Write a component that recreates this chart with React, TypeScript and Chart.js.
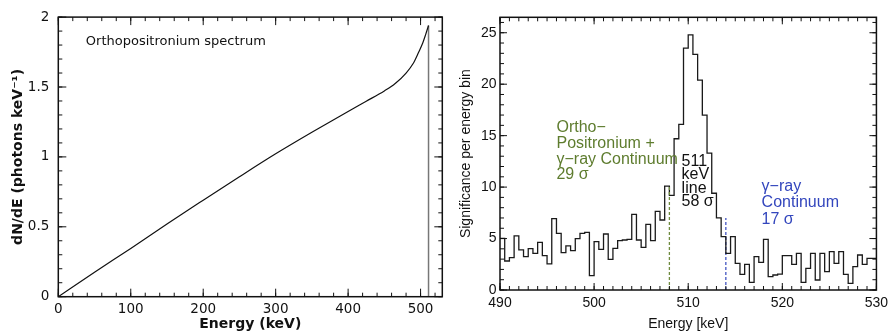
import React, { useEffect, useRef } from 'react';
import { Chart, registerables } from 'chart.js';

Chart.register(...registerables);

// ---------- Left panel: orthopositronium spectrum ----------
const opsEnergy = [0, 50, 100, 150, 200, 250, 300, 350, 400, 425, 450, 465, 480, 490, 497, 503, 507, 511];
const opsFlux = [0, 0.175, 0.345, 0.52, 0.69, 0.858, 1.022, 1.176, 1.325, 1.398, 1.472, 1.525, 1.6, 1.67, 1.745, 1.815, 1.875, 1.94];
const opsCutoffEnergy = 511;
const leftXTicks = [0, 100, 200, 300, 400, 500];
const leftXTickLabels = ['0', '100', '200', '300', '400', '500'];
const leftYTicks = [0, 0.5, 1, 1.5, 2];
const leftYTickLabels = ['0', '0.5', '1', '1.5', '2'];

// ---------- Right panel: significance histogram ----------
const BIN_START = 490;
const BIN_WIDTH = 0.5;
const significance = [
  5.02, 5.02, 2.82, 3.14, 5.25, 3.89, 3.24, 4.02, 3.56, 4.63,
  3.34, 2.53, 6.93, 5.51, 3.63, 4.28, 3.82, 4.99, 5.51, 5.6,
  1.39, 4.7, 3.95, 5.44, 2.98, 4.05, 4.8, 4.86, 4.92, 7.35,
  4.86, 4.15, 6.38, 4.8, 7.65, 6.8,
  10.1, 9.2, 14.7, 16.1, 23.5, 24.8, 22.9, 20.4, 17.0, 13.3, 9.4, 7.0,
  5.18, 3.56, 5.18, 2.59, 1.52, 2.49, 0.74, 3.24, 2.69, 4.92,
  1.3, 1.46, 1.55, 3.34, 3.34, 2.49, 3.56, 0.74, 2.1, 3.56,
  0.97, 3.56, 1.78, 3.73, 2.59, 3.73, 1.52, 0.65, 2.27, 3.4,
  2.49, 3.08,
];
const binEdges = Array.from({ length: significance.length + 1 }, (_, i) => BIN_START + i * BIN_WIDTH);
const rightXTicks = [490, 500, 510, 520, 530];
const rightXTickLabels = ['490', '500', '510', '520', '530'];
const rightYTicks = [0, 5, 10, 15, 20, 25];
const rightYTickLabels = ['0', '5', '10', '15', '20', '25'];
const orthoEdge = 508;
const orthoEdgeTop = 10.1;
const continuumEdge = 514;
const continuumEdgeTop = 7.0;

const GREEN = '#5e7c2e';
const GREEN_DASH = '#6f8b3f';
const BLUE = '#3346bd';

const orthoText = ['Ortho−', 'Positronium +', 'γ−ray Continuum', '29 σ'];
const lineText = ['511', 'keV', 'line', '58 σ'];
const contText = ['γ−ray', 'Continuum', '17 σ'];

function range(a: number, b: number, s: number) {
  const out: number[] = [];
  for (let v = a; v <= b + 1e-9; v += s) out.push(Math.round(v * 1e6) / 1e6);
  return out;
}

function frameTicks(id: string, o: any) {
  return {
    id,
    afterDatasetsDraw(chart: any) {
      const { ctx, chartArea } = chart;
      const { left, right, top, bottom } = chartArea;
      const x = chart.scales.x;
      const y = chart.scales.y;
      ctx.save();
      ctx.strokeStyle = '#111';
      ctx.lineWidth = 1;
      ctx.beginPath();
      const hx = (vals: number[], len: number) => {
        for (const v of vals) {
          const px = x.getPixelForValue(v);
          ctx.moveTo(px, bottom);
          ctx.lineTo(px, bottom - len);
          ctx.moveTo(px, top);
          ctx.lineTo(px, top + len);
        }
      };
      const vy = (vals: number[], len: number) => {
        for (const v of vals) {
          const py = y.getPixelForValue(v);
          ctx.moveTo(left, py);
          ctx.lineTo(left + len, py);
          ctx.moveTo(right, py);
          ctx.lineTo(right - len, py);
        }
      };
      hx(o.xMinor, o.minorLen);
      hx(o.xMajor, o.majorLen);
      vy(o.yMinor, o.minorLen);
      vy(o.yMajor, o.majorLen);
      ctx.stroke();
      ctx.lineWidth = o.frameWidth;
      ctx.strokeRect(left, top, right - left, bottom - top);
      ctx.restore();
    },
  };
}

function textNotes(id: string, notes: any[]) {
  return {
    id,
    afterDatasetsDraw(chart: any) {
      const { ctx } = chart;
      const x = chart.scales.x;
      const y = chart.scales.y;
      ctx.save();
      ctx.textAlign = 'left';
      ctx.textBaseline = 'middle';
      for (const n of notes) {
        ctx.font = n.font;
        ctx.fillStyle = n.color;
        const px = x.getPixelForValue(n.x);
        const py = y.getPixelForValue(n.y);
        n.lines.forEach((t: string, i: number) => ctx.fillText(t, px, py + i * n.lh));
      }
      ctx.restore();
    },
  };
}

function fixedTicks(values: number[]) {
  return (scale: any) => {
    scale.ticks = values.map((v) => ({ value: v }));
  };
}

function labelFor(values: number[], labels: string[]) {
  return (v: any) => {
    const i = values.indexOf(Number(v));
    return i >= 0 ? labels[i] : '';
  };
}

const LEFT_FONT = 'DejaVu Sans';
const RIGHT_FONT = 'Liberation Sans';

export default function App() {
  const leftRef = useRef<HTMLCanvasElement>(null);
  const rightRef = useRef<HTMLCanvasElement>(null);

  useEffect(() => {
    const left = new Chart(leftRef.current as HTMLCanvasElement, {
      type: 'line',
      data: {
        datasets: [
          {
            data: opsEnergy.map((e, i) => ({ x: e, y: opsFlux[i] })),
            borderColor: '#111',
            borderWidth: 1.2,
            pointRadius: 0,
            cubicInterpolationMode: 'monotone',
            fill: false,
          },
          {
            data: [
              { x: opsCutoffEnergy, y: opsFlux[opsFlux.length - 1] },
              { x: opsCutoffEnergy, y: 0 },
            ],
            borderColor: '#777',
            borderWidth: 1.5,
            pointRadius: 0,
            fill: false,
          },
        ],
      },
      options: {
        animation: false,
        responsive: false,
        devicePixelRatio: 1,
        layout: { padding: { top: 10, right: 7.7, left: 0, bottom: 0 } },
        plugins: { legend: { display: false }, tooltip: { enabled: false } },
        scales: {
          x: {
            type: 'linear',
            min: 0,
            max: 530,
            afterBuildTicks: fixedTicks(leftXTicks),
            afterFit: (s: any) => { s.height = 36.3; },
            grid: { display: false, drawTicks: false },
            border: { display: false },
            ticks: {
              padding: 4.5,
              color: '#111',
              font: { family: LEFT_FONT, size: 13.5 },
              maxRotation: 0,
              autoSkip: false,
              callback: labelFor(leftXTicks, leftXTickLabels),
            },
            title: {
              display: true,
              text: 'Energy (keV)',
              color: '#111',
              font: { family: LEFT_FONT, size: 14, weight: 'bold' },
              padding: { top: 0, bottom: 0 },
            },
          },
          y: {
            type: 'linear',
            min: 0,
            max: 2,
            afterBuildTicks: fixedTicks(leftYTicks),
            afterFit: (s: any) => { s.width = 58.3; },
            grid: { display: false, drawTicks: false },
            border: { display: false },
            ticks: {
              padding: 9,
              color: '#111',
              font: { family: LEFT_FONT, size: 13.5 },
              autoSkip: false,
              callback: labelFor(leftYTicks, leftYTickLabels),
            },
            title: {
              display: true,
              text: 'dN/dE (photons keV⁻¹)',
              color: '#111',
              font: { family: LEFT_FONT, size: 14, weight: 'bold' },
              padding: { top: 10, bottom: 0 },
            },
          },
        },
      } as any,
      plugins: [
        frameTicks('leftFrame', {
          xMajor: leftXTicks,
          xMinor: range(0, 520, 20),
          yMajor: leftYTicks,
          yMinor: range(0, 2, 0.1),
          majorLen: 8,
          minorLen: 4,
          frameWidth: 1.5,
        }),
        textNotes('leftNotes', [
          { lines: ['Orthopositronium spectrum'], x: 38, y: 1.826, lh: 0, color: '#111', font: `13px "${LEFT_FONT}"` },
        ]),
      ],
    });

    const right = new Chart(rightRef.current as HTMLCanvasElement, {
      type: 'line',
      data: {
        datasets: [
          {
            data: [
              { x: orthoEdge, y: 0 },
              { x: orthoEdge, y: orthoEdgeTop },
            ],
            borderColor: GREEN_DASH,
            borderWidth: 1.3,
            borderDash: [3, 2],
            pointRadius: 0,
            order: 0,
          },
          {
            data: binEdges.map((e, i) => ({
              x: e,
              y: i < significance.length ? significance[i] : significance[significance.length - 1],
            })),
            borderColor: '#1a1a1a',
            borderWidth: 1.3,
            pointRadius: 0,
            stepped: 'after',
            order: 1,
          },
          {
            data: [
              { x: continuumEdge, y: 0 },
              { x: continuumEdge, y: continuumEdgeTop },
            ],
            borderColor: BLUE,
            borderWidth: 1.2,
            borderDash: [3, 2],
            pointRadius: 0,
            order: 2,
          },
        ],
      },
      options: {
        animation: false,
        responsive: false,
        devicePixelRatio: 1,
        layout: { padding: { top: 17.3, right: 16.3, left: 0, bottom: 0 } },
        plugins: { legend: { display: false }, tooltip: { enabled: false } },
        scales: {
          x: {
            type: 'linear',
            min: 490,
            max: 530,
            afterBuildTicks: fixedTicks(rightXTicks),
            afterFit: (s: any) => { s.height = 43; },
            grid: { display: false, drawTicks: false },
            border: { display: false },
            ticks: {
              padding: 4.9,
              color: '#111',
              font: { family: RIGHT_FONT, size: 14 },
              maxRotation: 0,
              autoSkip: false,
              callback: labelFor(rightXTicks, rightXTickLabels),
            },
            title: {
              display: true,
              text: 'Energy [keV]',
              color: '#111',
              font: { family: RIGHT_FONT, size: 14 },
              padding: { top: 5.6, bottom: 0 },
            },
          },
          y: {
            type: 'linear',
            min: 0,
            max: 26.5,
            afterBuildTicks: fixedTicks(rightYTicks),
            afterFit: (s: any) => { s.width = 50; },
            grid: { display: false, drawTicks: false },
            border: { display: false },
            ticks: {
              padding: 3.5,
              color: '#111',
              font: { family: RIGHT_FONT, size: 14 },
              autoSkip: false,
              callback: labelFor(rightYTicks, rightYTickLabels),
            },
            title: {
              display: true,
              text: 'Significance per energy bin',
              color: '#111',
              font: { family: RIGHT_FONT, size: 14 },
              padding: { top: 7.6, bottom: 0 },
            },
          },
        },
      } as any,
      plugins: [
        frameTicks('rightFrame', {
          xMajor: rightXTicks,
          xMinor: range(490, 530, 1),
          yMajor: rightYTicks,
          yMinor: range(0, 26, 1),
          majorLen: 7,
          minorLen: 4,
          frameWidth: 1.5,
        }),
        textNotes('rightNotes', [
          { lines: orthoText, x: 496.0, y: 15.75, lh: 15.6, color: GREEN, font: `16px "${RIGHT_FONT}"` },
          { lines: lineText, x: 509.3, y: 12.47, lh: 13.3, color: '#111', font: `16px "${RIGHT_FONT}"` },
          { lines: contText, x: 517.8, y: 10.04, lh: 16.3, color: BLUE, font: `16px "${RIGHT_FONT}"` },
        ]),
      ],
    });

    return () => {
      left.destroy();
      right.destroy();
    };
  }, []);

  return (
    <div style={{ position: 'fixed', left: 0, top: 0, width: 893, height: 333, background: '#fff' }}>
      <canvas
        ref={leftRef}
        width={450}
        height={333}
        style={{ position: 'absolute', left: 0, top: 0, width: 450, height: 333 }}
      />
      <canvas
        ref={rightRef}
        width={443}
        height={333}
        style={{ position: 'absolute', left: 450, top: 0, width: 443, height: 333 }}
      />
    </div>
  );
}
